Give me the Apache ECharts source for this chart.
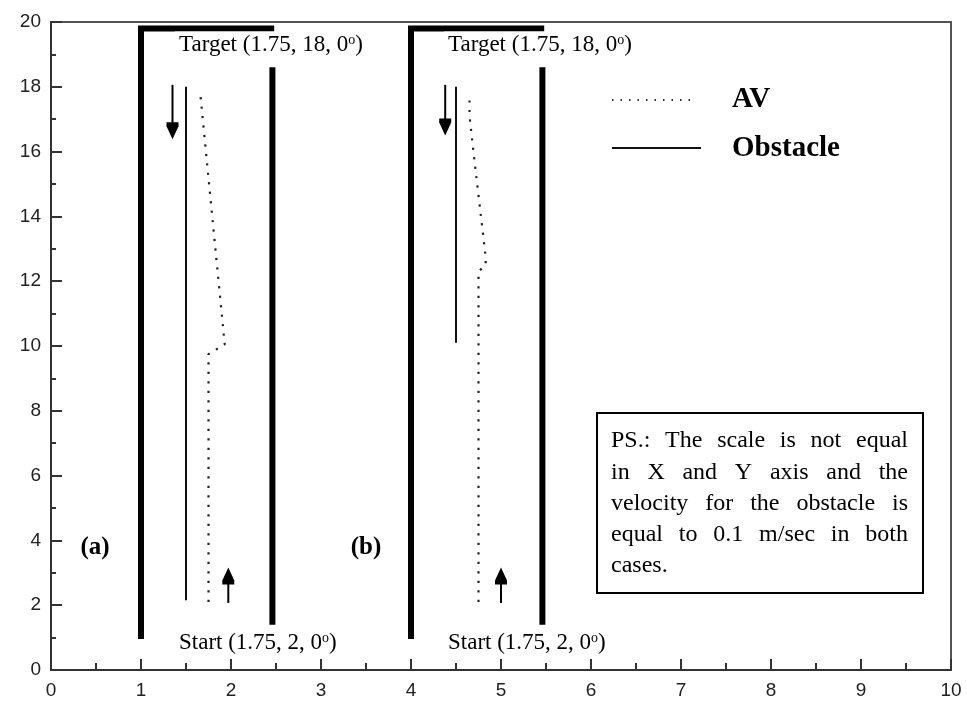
<!DOCTYPE html>
<html><head><meta charset="utf-8">
<script src="https://cdn.jsdelivr.net/npm/echarts@6/dist/echarts.min.js"></script>
<style>html,body{margin:0;padding:0;background:#fff}#c{width:967px;height:708px}</style>
</head><body><div id="c"></div>
<script>
// ---- data ----
const xRange = [0, 10];
const yRange = [0, 20];
const avA = [[1.75, 2.1], [1.75, 9.75], [1.93, 10.05], [1.66, 17.75]];
const avB = [[4.75, 2.1], [4.75, 12.3], [4.83, 12.5], [4.83, 12.75], [4.71, 15.6], [4.65, 17.1], [4.65, 17.8]];
const obstacleA = [[1.5, 2.15], [1.5, 18.0]];
const obstacleB = [[4.5, 10.1], [4.5, 18.0]];
const wallLeftA = [[1, 0.96], [1, 19.8], [2.48, 19.8]];
const wallRightA = [[2.46, 1.4], [2.46, 18.6]];
const wallLeftB = [[4, 0.96], [4, 19.8], [5.48, 19.8]];
const wallRightB = [[5.46, 1.4], [5.46, 18.6]];
const obstacleArrowA = [[1.35, 18.06], [1.35, 16.64]];
const obstacleArrowB = [[4.38, 18.06], [4.38, 16.76]];
const startArrowA = [[1.97, 2.07], [1.97, 2.9]];
const startArrowB = [[5.0, 2.07], [5.0, 2.9]];
const targetText = 'Target (1.75, 18, 0';
const startText = 'Start (1.75, 2, 0';
const psLines = [
  'PS.: The scale is not equal',
  'in X and Y axis and the',
  'velocity for the obstacle is',
  'equal to 0.1 m/sec in both',
  'cases.'
];

// ---- chart ----
const chart = echarts.init(document.getElementById('c'), null, {renderer: 'canvas'});
const serif = '"Liberation Serif","Times New Roman",serif';
const DOWN_HEAD = 'path://M0,0 L12,0 L12,4 L6,17 L0,4 Z';
const UP_HEAD = 'path://M6,0 L12,13 L12,17 L0,17 L0,13 Z';

function lineSeries(name, data, style) {
  return {
    name, type: 'line', data, symbol: 'none', clip: false, silent: true,
    lineStyle: Object.assign({color: '#000', width: 2}, style),
    z: 3
  };
}
function arrowSeries(name, pts, head) {
  return {
    name, type: 'line', clip: false, silent: true, z: 4,
    data: [
      {value: pts[0], symbol: 'none'},
      {value: pts[1], symbol: head, symbolSize: [12, 17], itemStyle: {color: '#000'}}
    ],
    lineStyle: {color: '#000', width: 2}
  };
}

const wallStyle = {width: 6, join: 'miter', cap: 'butt', color: '#000'};
const dotStyle = {width: 2.2, type: [2.2, 7.3], color: '#222', cap: 'butt'};
const obsStyle = {width: 2, color: '#111'};

const graphics = [];
function richLabel(text, left, cy) {
  return {
    type: 'text', x: left, y: cy, z: 100,
    style: {
      text: '{n|' + text + '}{s|o}{n|)}',
      rich: {
        n: {fontFamily: serif, fontSize: 23, fill: '#000'},
        s: {fontFamily: serif, fontSize: 14, fill: '#000', verticalAlign: 'top'}
      },
      verticalAlign: 'middle',
      backgroundColor: '#fff',
      padding: [2, 4, 2, 4]
    }
  };
}
graphics.push(richLabel(targetText, 175, 45));
graphics.push(richLabel(targetText, 444, 45));
graphics.push(richLabel(startText, 175, 643));
graphics.push(richLabel(startText, 444, 643));
graphics.push({type: 'text', x: 95, y: 548, z: 100, style: {text: '(a)', font: 'bold 25px ' + serif, fill: '#000', align: 'center', verticalAlign: 'middle'}});
graphics.push({type: 'text', x: 366, y: 548, z: 100, style: {text: '(b)', font: 'bold 25px ' + serif, fill: '#000', align: 'center', verticalAlign: 'middle'}});
// legend
graphics.push({type: 'line', z: 100, shape: {x1: 612, y1: 100, x2: 694, y2: 100}, style: {stroke: '#333', lineWidth: 2, lineDash: [1.5, 7]}});
graphics.push({type: 'text', x: 732, y: 100, z: 100, style: {text: 'AV', font: 'bold 29px ' + serif, fill: '#000', verticalAlign: 'middle'}});
graphics.push({type: 'line', z: 100, shape: {x1: 612, y1: 148, x2: 701, y2: 148}, style: {stroke: '#111', lineWidth: 2}});
graphics.push({type: 'text', x: 732, y: 149, z: 100, style: {text: 'Obstacle', font: 'bold 29px ' + serif, fill: '#000', verticalAlign: 'middle'}});
// PS box
graphics.push({type: 'rect', z: 100, shape: {x: 597, y: 413, width: 326, height: 180}, style: {fill: '#fff', stroke: '#000', lineWidth: 2}});
(function () {
  const font = '24px ' + serif;
  const ctx = document.createElement('canvas').getContext('2d');
  ctx.font = font;
  const left = 611, right = 908, top = 441, lh = 31.3;
  psLines.forEach((ln, i) => {
    const words = ln.split(' ');
    const y = top + i * lh;
    if (i === psLines.length - 1 || words.length < 2) {
      graphics.push({type: 'text', x: left, y, z: 101, style: {text: ln, font, fill: '#000', verticalAlign: 'middle'}});
      return;
    }
    const widths = words.map(w => ctx.measureText(w).width);
    const total = widths.reduce((a, b) => a + b, 0);
    const gap = (right - left - total) / (words.length - 1);
    let x = left;
    words.forEach((w, k) => {
      graphics.push({type: 'text', x, y, z: 101, style: {text: w, font, fill: '#000', verticalAlign: 'middle'}});
      x += widths[k] + gap;
    });
  });
})();

const axisLabelStyle = {color: '#222', fontFamily: '"Liberation Sans", Arial, sans-serif', fontSize: 19};

chart.setOption({
  animation: false,
  backgroundColor: '#fff',
  grid: {left: 51, right: 16, top: 22, bottom: 38, show: true, borderColor: '#555', borderWidth: 2, containLabel: false},
  xAxis: {
    type: 'value', min: xRange[0], max: xRange[1], interval: 1,
    axisLine: {show: true, onZero: false, lineStyle: {color: '#333', width: 2}},
    axisTick: {show: true, inside: true, length: 11, lineStyle: {color: '#333', width: 2}},
    minorTick: {show: true, splitNumber: 2, length: 7, lineStyle: {color: '#333', width: 2}},
    splitLine: {show: false},
    axisLabel: Object.assign({margin: 11}, axisLabelStyle)
  },
  yAxis: {
    type: 'value', min: yRange[0], max: yRange[1], interval: 2,
    axisLine: {show: true, onZero: false, lineStyle: {color: '#333', width: 2}},
    axisTick: {show: true, inside: true, length: 11, lineStyle: {color: '#333', width: 2}},
    minorTick: {show: true, splitNumber: 2, length: 5, lineStyle: {color: '#333', width: 2}},
    splitLine: {show: false},
    axisLabel: Object.assign({margin: 10}, axisLabelStyle)
  },
  graphic: graphics,
  series: [
    lineSeries('wallLeftA', wallLeftA, wallStyle),
    lineSeries('wallRightA', wallRightA, wallStyle),
    lineSeries('wallLeftB', wallLeftB, wallStyle),
    lineSeries('wallRightB', wallRightB, wallStyle),
    lineSeries('AV (a)', avA, dotStyle),
    lineSeries('AV (b)', avB, dotStyle),
    lineSeries('Obstacle (a)', obstacleA, obsStyle),
    lineSeries('Obstacle (b)', obstacleB, obsStyle),
    arrowSeries('obstacleArrowA', obstacleArrowA, DOWN_HEAD),
    arrowSeries('obstacleArrowB', obstacleArrowB, DOWN_HEAD),
    arrowSeries('startArrowA', startArrowA, UP_HEAD),
    arrowSeries('startArrowB', startArrowB, UP_HEAD)
  ]
});
</script></body></html>
